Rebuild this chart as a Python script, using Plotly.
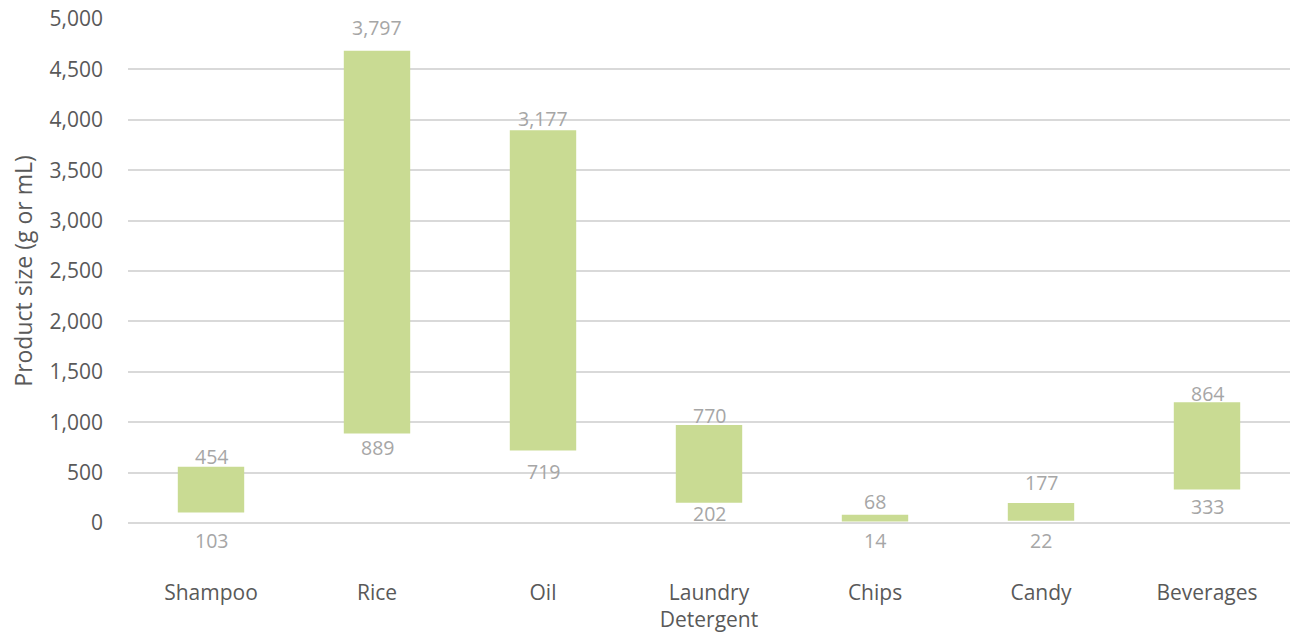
import plotly.graph_objects as go

# Product size ranges: smallest size (base) and span up to the largest size
categories = ["Shampoo", "Rice", "Oil", "Laundry<br>Detergent", "Chips", "Candy", "Beverages"]
min_size = [103, 889, 719, 202, 14, 22, 333]
size_span = [454, 3797, 3177, 770, 68, 177, 864]

# label offsets in pixels (below base, above top)
low_label_shift = [28, 14, 21, 11, 19, 20, 17]
high_label_shift = [10, 23, 12, 10, 13, 20, 9]

FONT = "Open Sans"
BAR_COLOR = "#c9db93"
LABEL_COLOR = "#a6a6a6"
AXIS_TEXT = "#595959"
GRID = "#d9d9d9"

fig = go.Figure()
fig.add_trace(go.Bar(
    x=categories,
    y=size_span,
    base=min_size,
    width=0.4,
    marker=dict(color=BAR_COLOR, line=dict(width=0)),
    hoverinfo="skip",
))

annotations = []
for cat, lo, span, ls, hs in zip(categories, min_size, size_span, low_label_shift, high_label_shift):
    annotations.append(dict(
        x=cat, y=lo, xref="x", yref="y", text=f"{lo:,}", showarrow=False,
        yanchor="middle", yshift=-ls, font=dict(family=FONT, size=19.5, color=LABEL_COLOR),
    ))
    annotations.append(dict(
        x=cat, y=lo + span, xref="x", yref="y", text=f"{span:,}", showarrow=False,
        yanchor="middle", yshift=hs, font=dict(family=FONT, size=19.5, color=LABEL_COLOR),
    ))

fig.update_layout(
    width=1292, height=638,
    margin=dict(l=128, r=2, t=19, b=115),
    paper_bgcolor="white", plot_bgcolor="white",
    showlegend=False,
    font=dict(family=FONT, color=AXIS_TEXT, size=21),
    annotations=annotations,
    bargap=0.6,
)
fig.update_xaxes(
    showgrid=False, showline=False, ticks="",
    tickfont=dict(family=FONT, size=21, color=AXIS_TEXT),
    ticklabelstandoff=55,
)
fig.update_yaxes(
    range=[0, 5000], tick0=0, dtick=500, tickformat=",d",
    showgrid=True, gridcolor=GRID, gridwidth=2,
    zeroline=True, zerolinecolor=GRID, zerolinewidth=2,
    showline=False, ticks="",
    tickfont=dict(family=FONT, size=21, color=AXIS_TEXT),
    ticklabelstandoff=24,
    title=dict(text="Product size (g or mL)", font=dict(family=FONT, size=23, color=AXIS_TEXT), standoff=10),
)

fig.write_html("out.html")
